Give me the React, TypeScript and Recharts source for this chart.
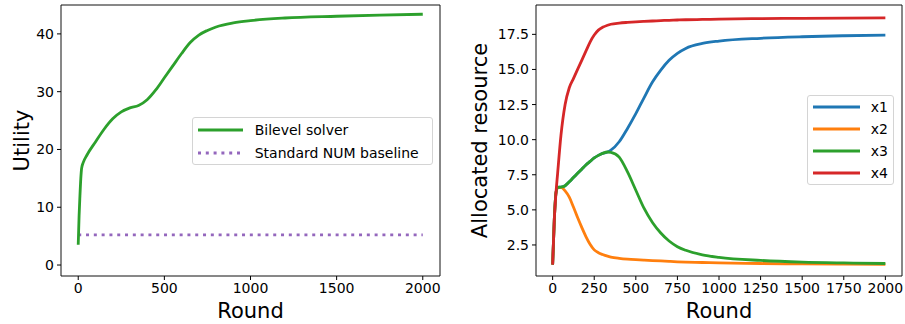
import { LineChart, Line, XAxis, YAxis, Legend, ReferenceArea } from 'recharts'

// left panel: utility per round
const utilityRounds = [0, 5, 10, 15, 20, 30, 50, 100, 150, 200, 250, 300, 350, 400, 450, 500, 550, 600, 650, 700, 750, 800, 900, 1000, 1200, 1500, 1750, 2000]
const utilityValues = [3.5, 8.5, 12.0, 15.0, 16.8, 17.8, 19.0, 21.3, 23.5, 25.3, 26.5, 27.2, 27.6, 28.6, 30.3, 32.4, 34.5, 36.6, 38.5, 39.8, 40.6, 41.2, 41.9, 42.3, 42.75, 43.05, 43.25, 43.4]
const baselineRounds = [0, 2000]
const baselineValues = [5.2, 5.2]

// right panel: allocated resource per user
const rounds = [0, 10, 20, 30, 50, 75, 100, 125, 150, 175, 200, 225, 250, 275, 300, 330, 350, 400, 450, 500, 550, 600, 650, 700, 750, 800, 900, 1000, 1250, 1500, 1750, 2000]
const x1 = [1.1, 4.3, 6.2, 6.6, 6.62, 6.72, 7.0, 7.3, 7.6, 7.9, 8.2, 8.45, 8.7, 8.88, 9.02, 9.12, 9.25, 9.85, 10.8, 11.85, 13.0, 14.1, 14.95, 15.65, 16.15, 16.5, 16.85, 17.02, 17.22, 17.33, 17.4, 17.45]
const x2 = [1.1, 4.3, 6.2, 6.6, 6.6, 6.35, 5.9, 5.2, 4.45, 3.75, 3.1, 2.55, 2.15, 1.95, 1.82, 1.7, 1.64, 1.55, 1.49, 1.45, 1.42, 1.39, 1.36, 1.33, 1.3, 1.28, 1.25, 1.22, 1.18, 1.15, 1.13, 1.12]
const x3 = [1.1, 4.3, 6.2, 6.6, 6.62, 6.72, 7.0, 7.3, 7.6, 7.9, 8.2, 8.45, 8.7, 8.88, 9.02, 9.12, 9.1, 8.75, 7.7, 6.4, 5.1, 4.1, 3.35, 2.78, 2.38, 2.12, 1.8, 1.62, 1.4, 1.28, 1.22, 1.18]
const x4 = [1.1, 4.3, 6.2, 7.6, 10.3, 12.5, 13.7, 14.35, 15.0, 15.65, 16.3, 16.95, 17.45, 17.8, 18.0, 18.15, 18.22, 18.3, 18.35, 18.39, 18.42, 18.45, 18.48, 18.5, 18.52, 18.54, 18.56, 18.58, 18.62, 18.64, 18.66, 18.68]

const leftXTicks = [0, 500, 1000, 1500, 2000]
const leftYTicks = [0, 10, 20, 30, 40]
const rightXTicks = [0, 250, 500, 750, 1000, 1250, 1500, 1750, 2000]
const rightYTicks = [2.5, 5, 7.5, 10, 12.5, 15, 17.5]

const toPoints = (xs: number[], ys: number[]) => xs.map((r, i) => ({ round: r, value: ys[i] }))

const tickStyle = { fontSize: 14, fill: '#000' }

interface LegendItem {
  label: string
  color: string
  dash?: string
}

function LegendBox({ items, lineLen, gap, rowH }: { items: LegendItem[]; lineLen: number; gap: number; rowH: number }) {
  return (
    <div
      style={{
        border: '1px solid #d4d4d4',
        borderRadius: 3,
        background: 'rgba(255,255,255,0.8)',
        boxSizing: 'border-box',
        width: '100%',
        height: '100%',
        fontSize: 14,
        color: '#000'
      }}
    >
      {items.map((it) => (
        <div key={it.label} style={{ display: 'flex', alignItems: 'center', height: rowH }}>
          <svg width={lineLen + 5} height={10} style={{ display: 'block' }}>
            <line x1={5} x2={5 + lineLen} y1={5} y2={5} stroke={it.color} strokeWidth={2.8} strokeDasharray={it.dash} />
          </svg>
          <span style={{ marginLeft: gap, lineHeight: 1, whiteSpace: 'nowrap' }}>{it.label}</span>
        </div>
      ))}
    </div>
  )
}

function UtilityChart() {
  return (
    <LineChart width={450} height={324} margin={{ top: 5, right: 10, bottom: 0, left: 0 }}>
      <XAxis
        dataKey="round"
        type="number"
        domain={[-100, 2100]}
        ticks={leftXTicks}
        allowDataOverflow
        height={48}
        axisLine={false}
        tickSize={4}
        tickMargin={3}
        tickLine={{ stroke: '#000' }}
        tick={tickStyle}
        label={{ value: 'Round', position: 'center', dy: 11, fontSize: 21, fill: '#000' }}
      />
      <YAxis
        type="number"
        domain={[-1.9, 45]}
        ticks={leftYTicks}
        allowDataOverflow
        width={61}
        axisLine={false}
        tickSize={4}
        tickMargin={3}
        tickLine={{ stroke: '#000' }}
        tick={tickStyle}
        label={{ value: 'Utility', angle: -90, position: 'center', dx: -9, fontSize: 21, fill: '#000' }}
      />
      <ReferenceArea x1={-100} x2={2100} y1={-1.9} y2={45} fill="none" stroke="#111" strokeWidth={1} />
      <Line
        data={toPoints(baselineRounds, baselineValues)}
        dataKey="value"
        type="linear"
        stroke="#9467bd"
        strokeWidth={2.8}
        strokeDasharray="3 4.8"
        dot={false}
        isAnimationActive={false}
      />
      <Line
        data={toPoints(utilityRounds, utilityValues)}
        dataKey="value"
        type="monotone"
        stroke="#2ca02c"
        strokeWidth={2.8}
        dot={false}
        isAnimationActive={false}
      />
      <Legend
        layout="vertical"
        align="center"
        verticalAlign="middle"
        wrapperStyle={{ left: 191.7, top: 117.3, width: 241, height: 48 }}
        content={() => (
          <LegendBox
            lineLen={45}
            gap={12}
            rowH={23}
            items={[
              { label: 'Bilevel solver', color: '#2ca02c' },
              { label: 'Standard NUM baseline', color: '#9467bd', dash: '3 4.8' }
            ]}
          />
        )}
      />
    </LineChart>
  )
}

function ResourceChart() {
  const series = [
    { name: 'x1', values: x1, color: '#1f77b4' },
    { name: 'x2', values: x2, color: '#ff7f0e' },
    { name: 'x3', values: x3, color: '#2ca02c' },
    { name: 'x4', values: x4, color: '#d62728' }
  ]
  return (
    <LineChart width={455} height={324} margin={{ top: 5, right: 3, bottom: 0, left: 0 }}>
      <XAxis
        dataKey="round"
        type="number"
        domain={[-100, 2100]}
        ticks={rightXTicks}
        allowDataOverflow
        interval={0}
        height={48}
        axisLine={false}
        tickSize={4}
        tickMargin={3}
        tickLine={{ stroke: '#000' }}
        tick={tickStyle}
        label={{ value: 'Round', position: 'center', dy: 11, fontSize: 21, fill: '#000' }}
      />
      <YAxis
        type="number"
        domain={[0.29, 19.59]}
        ticks={rightYTicks}
        allowDataOverflow
        interval={0}
        width={86}
        axisLine={false}
        tickSize={4}
        tickMargin={3}
        tickLine={{ stroke: '#000' }}
        tick={tickStyle}
        tickFormatter={(v: number) => v.toFixed(1)}
        label={{ value: 'Allocated resource', angle: -90, position: 'center', dx: -13, fontSize: 21, fill: '#000' }}
      />
      <ReferenceArea x1={-100} x2={2100} y1={0.29} y2={19.59} fill="none" stroke="#111" strokeWidth={1} />
      {series.map((s) => (
        <Line
          key={s.name}
          name={s.name}
          data={toPoints(rounds, s.values)}
          dataKey="value"
          type="monotone"
          stroke={s.color}
          strokeWidth={2.8}
          dot={false}
          isAnimationActive={false}
        />
      ))}
      <Legend
        layout="vertical"
        align="center"
        verticalAlign="middle"
        wrapperStyle={{ left: 356.7, top: 95, width: 87, height: 90 }}
        content={() => (
          <LegendBox
            lineLen={47}
            gap={11}
            rowH={22}
            items={series.map((s) => ({ label: s.name, color: s.color }))}
          />
        )}
      />
    </LineChart>
  )
}

export default function App() {
  return (
    <div
      style={{
        position: 'absolute',
        left: 0,
        top: 0,
        width: 905,
        height: 324,
        background: '#fff',
        fontFamily: '"DejaVu Sans", sans-serif'
      }}
    >
      <div style={{ position: 'absolute', left: 0, top: 0 }}>
        <UtilityChart />
      </div>
      <div style={{ position: 'absolute', left: 450, top: 0 }}>
        <ResourceChart />
      </div>
    </div>
  )
}
